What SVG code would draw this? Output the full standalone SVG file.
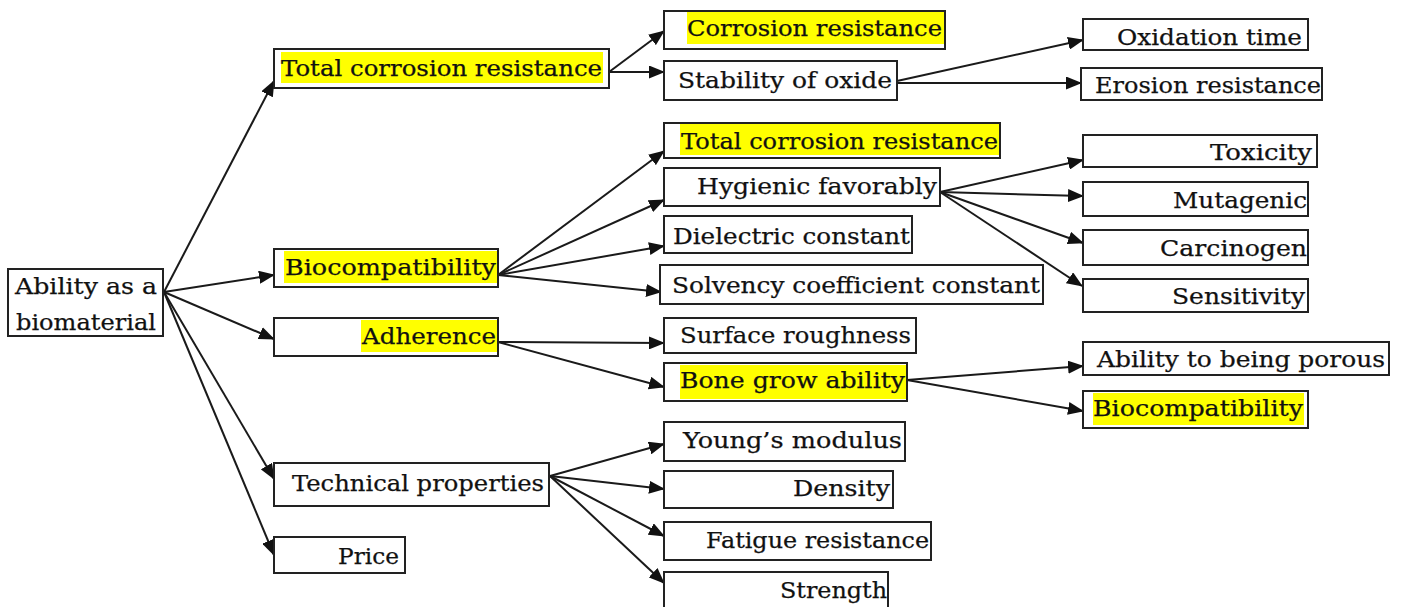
<svg xmlns="http://www.w3.org/2000/svg" width="1402" height="607" viewBox="0 0 1402 607">
<style>
.box{fill:#fff;stroke:#222;stroke-width:2}
.hl{fill:#ffff00}
.t{font-family:"DejaVu Serif","Liberation Serif",serif;font-size:23px;fill:#111;stroke:#111;stroke-width:0.25}
.c{stroke:#1a1a1a;stroke-width:2;fill:none;marker-end:url(#ah)}
</style>
<defs>
<marker id="ah" markerWidth="16" markerHeight="13" refX="15" refY="6.5" orient="auto" markerUnits="userSpaceOnUse">
<path d="M0,0 L16,6.5 L0,13 Z" fill="#111"/>
</marker>
</defs>
<rect width="1402" height="607" fill="#fff"/>
<g id="connectors">
<line class="c" x1="164" y1="292" x2="274" y2="81"/>
<line class="c" x1="164" y1="292" x2="274" y2="275"/>
<line class="c" x1="164" y1="292" x2="274" y2="339"/>
<line class="c" x1="164" y1="292" x2="274" y2="479"/>
<line class="c" x1="164" y1="292" x2="274" y2="555"/>
<line class="c" x1="609" y1="72" x2="664" y2="31"/>
<line class="c" x1="609" y1="72" x2="664" y2="72"/>
<line class="c" x1="897" y1="81" x2="1083" y2="40"/>
<line class="c" x1="897" y1="83" x2="1081" y2="83"/>
<line class="c" x1="498" y1="275" x2="664" y2="151"/>
<line class="c" x1="498" y1="275" x2="664" y2="200"/>
<line class="c" x1="498" y1="275" x2="664" y2="246"/>
<line class="c" x1="498" y1="275" x2="661" y2="292"/>
<line class="c" x1="940" y1="192" x2="1083" y2="160"/>
<line class="c" x1="940" y1="192" x2="1083" y2="196"/>
<line class="c" x1="940" y1="192" x2="1083" y2="243"/>
<line class="c" x1="940" y1="192" x2="1082" y2="286"/>
<line class="c" x1="498" y1="342" x2="664" y2="343"/>
<line class="c" x1="498" y1="342" x2="664" y2="387"/>
<line class="c" x1="907" y1="380" x2="1083" y2="366"/>
<line class="c" x1="907" y1="380" x2="1083" y2="411"/>
<line class="c" x1="550" y1="476" x2="664" y2="444"/>
<line class="c" x1="550" y1="476" x2="664" y2="489"/>
<line class="c" x1="550" y1="476" x2="664" y2="536"/>
<line class="c" x1="550" y1="476" x2="664" y2="583"/>
</g>
<g id="root">
<rect class="box" x="8" y="269" width="155" height="67"/>
<text class="t" x="15" y="294" textLength="142" lengthAdjust="spacingAndGlyphs">Ability as a</text>
<text class="t" x="16" y="330" textLength="140" lengthAdjust="spacingAndGlyphs">biomaterial</text>
</g>
<g id="n-total1">
<rect class="box" x="274" y="49" width="335" height="39"/>
<rect class="hl" x="281" y="52" width="322" height="31"/>
<text class="t" x="281" y="76" textLength="321" lengthAdjust="spacingAndGlyphs">Total corrosion resistance</text>
</g>
<g id="n-bio1">
<rect class="box" x="274" y="249" width="224" height="38"/>
<rect class="hl" x="284" y="251" width="213" height="32"/>
<text class="t" x="285" y="275" textLength="211" lengthAdjust="spacingAndGlyphs">Biocompatibility</text>
</g>
<g id="n-adh">
<rect class="box" x="274" y="318" width="224" height="38"/>
<rect class="hl" x="361" y="320" width="136" height="32"/>
<text class="t" x="362" y="344" textLength="134" lengthAdjust="spacingAndGlyphs">Adherence</text>
</g>
<g id="n-tech">
<rect class="box" x="274" y="463" width="275" height="43"/>
<text class="t" x="292" y="491" textLength="252" lengthAdjust="spacingAndGlyphs">Technical properties</text>
</g>
<g id="n-price">
<rect class="box" x="274" y="537" width="131" height="36"/>
<text class="t" x="338" y="564" textLength="61" lengthAdjust="spacingAndGlyphs">Price</text>
</g>
<g id="n-corr">
<rect class="box" x="664" y="11" width="281" height="38"/>
<rect class="hl" x="687" y="12" width="257" height="32"/>
<text class="t" x="687" y="36" textLength="255" lengthAdjust="spacingAndGlyphs">Corrosion resistance</text>
</g>
<g id="n-stab">
<rect class="box" x="664" y="61" width="233" height="39"/>
<text class="t" x="678" y="88" textLength="214" lengthAdjust="spacingAndGlyphs">Stability of oxide</text>
</g>
<g id="n-total2">
<rect class="box" x="664" y="123" width="336" height="35"/>
<rect class="hl" x="680" y="124" width="319" height="31"/>
<text class="t" x="681" y="149" textLength="317" lengthAdjust="spacingAndGlyphs">Total corrosion resistance</text>
</g>
<g id="n-hyg">
<rect class="box" x="664" y="168" width="276" height="38"/>
<text class="t" x="697" y="194" textLength="240" lengthAdjust="spacingAndGlyphs">Hygienic favorably</text>
</g>
<g id="n-diel">
<rect class="box" x="664" y="216" width="248" height="37"/>
<text class="t" x="673" y="244" textLength="237" lengthAdjust="spacingAndGlyphs">Dielectric constant</text>
</g>
<g id="n-solv">
<rect class="box" x="660" y="265" width="383" height="39"/>
<text class="t" x="672" y="293" textLength="368" lengthAdjust="spacingAndGlyphs">Solvency coefficient constant</text>
</g>
<g id="n-surf">
<rect class="box" x="664" y="318" width="252" height="35"/>
<text class="t" x="680" y="343" textLength="231" lengthAdjust="spacingAndGlyphs">Surface roughness</text>
</g>
<g id="n-bone">
<rect class="box" x="664" y="363" width="243" height="38"/>
<rect class="hl" x="680" y="365" width="226" height="34"/>
<text class="t" x="680" y="388" textLength="225" lengthAdjust="spacingAndGlyphs">Bone grow ability</text>
</g>
<g id="n-young">
<rect class="box" x="664" y="422" width="241" height="39"/>
<text class="t" x="683" y="448" textLength="219" lengthAdjust="spacingAndGlyphs">Young’s modulus</text>
</g>
<g id="n-dens">
<rect class="box" x="664" y="471" width="229" height="37"/>
<text class="t" x="793" y="496" textLength="97" lengthAdjust="spacingAndGlyphs">Density</text>
</g>
<g id="n-fat">
<rect class="box" x="664" y="522" width="267" height="38"/>
<text class="t" x="706" y="548" textLength="223" lengthAdjust="spacingAndGlyphs">Fatigue resistance</text>
</g>
<g id="n-str">
<rect class="box" x="664" y="572" width="224" height="40"/>
<text class="t" x="780" y="598" textLength="107" lengthAdjust="spacingAndGlyphs">Strength</text>
</g>
<g id="n-oxt">
<rect class="box" x="1083" y="19" width="225" height="31"/>
<text class="t" x="1117" y="45" textLength="185" lengthAdjust="spacingAndGlyphs">Oxidation time</text>
</g>
<g id="n-eros">
<rect class="box" x="1081" y="68" width="241" height="32"/>
<text class="t" x="1095" y="93" textLength="226" lengthAdjust="spacingAndGlyphs">Erosion resistance</text>
</g>
<g id="n-tox">
<rect class="box" x="1083" y="135" width="234" height="32"/>
<text class="t" x="1210" y="160" textLength="102" lengthAdjust="spacingAndGlyphs">Toxicity</text>
</g>
<g id="n-mut">
<rect class="box" x="1083" y="182" width="225" height="34"/>
<text class="t" x="1173" y="208" textLength="134" lengthAdjust="spacingAndGlyphs">Mutagenic</text>
</g>
<g id="n-carc">
<rect class="box" x="1083" y="230" width="225" height="35"/>
<text class="t" x="1160" y="256" textLength="147" lengthAdjust="spacingAndGlyphs">Carcinogen</text>
</g>
<g id="n-sens">
<rect class="box" x="1083" y="279" width="225" height="33"/>
<text class="t" x="1172" y="304" textLength="133" lengthAdjust="spacingAndGlyphs">Sensitivity</text>
</g>
<g id="n-por">
<rect class="box" x="1083" y="342" width="306" height="33"/>
<text class="t" x="1097" y="367" textLength="288" lengthAdjust="spacingAndGlyphs">Ability to being porous</text>
</g>
<g id="n-bio3">
<rect class="box" x="1083" y="391" width="225" height="37"/>
<rect class="hl" x="1093" y="393" width="211" height="32"/>
<text class="t" x="1093" y="416" textLength="210" lengthAdjust="spacingAndGlyphs">Biocompatibility</text>
</g>
</svg>
